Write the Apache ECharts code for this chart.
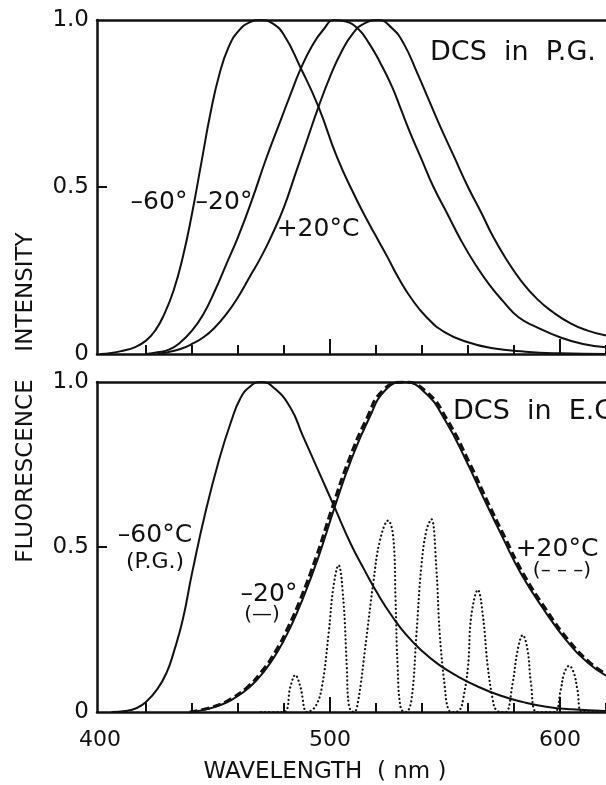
<!DOCTYPE html>
<html>
<head>
<meta charset="utf-8">
<script src="https://cdn.jsdelivr.net/npm/echarts@6/dist/echarts.min.js"></script>
<style>
  html, body { margin: 0; padding: 0; background: #fff; }
  #chart { width: 606px; height: 785px; }
</style>
</head>
<body>
<div id="chart"></div>
<script>
// Wavelength axis (nm)
const wlMin = 398.7;
const wlMax = 620;
const minorTickValues = [420, 440, 460, 480, 520, 540, 560, 580, 620];
const majorTickValues = [500, 600];
const wlLabelValues = [400, 500, 600];
const intensityTicks = [0, 0.5, 1.0];

// DCS in propylene glycol: [wavelength nm, normalised intensity]
const pgMinus60 = [
  [400, 0], [405, 0.003], [410, 0.01], [415, 0.02], [420, 0.04], [424, 0.07],
  [428, 0.12], [432, 0.19], [436, 0.29], [440, 0.42], [444, 0.57], [448, 0.72],
  [452, 0.84], [456, 0.92], [460, 0.965], [465, 0.993], [470, 1.0], [475, 0.99],
  [480, 0.955], [487, 0.86], [495, 0.74], [503, 0.59], [511, 0.47], [517, 0.39],
  [521, 0.34], [525, 0.29], [530, 0.225], [535, 0.17], [542, 0.11], [550, 0.065],
  [560, 0.035], [570, 0.018], [585, 0.007], [600, 0.002], [620, 0]
];
const pgMinus20 = [
  [420, 0], [425, 0.005], [430, 0.013], [435, 0.035], [440, 0.07], [445, 0.12],
  [450, 0.19], [455, 0.27], [460, 0.35], [466, 0.46], [472, 0.58], [478, 0.69],
  [483, 0.78], [487, 0.85], [492, 0.92], [497, 0.97], [502, 1.0], [507, 0.995],
  [512, 0.975], [517, 0.93], [522, 0.87], [527, 0.80], [531, 0.73], [535, 0.66],
  [540, 0.58], [545, 0.50], [551, 0.42], [557, 0.34], [563, 0.27], [569, 0.21],
  [575, 0.16], [582, 0.11], [590, 0.08], [600, 0.05], [610, 0.03], [620, 0.02]
];
const pgPlus20 = [
  [425, 0], [430, 0.006], [435, 0.015], [440, 0.03], [445, 0.05], [450, 0.08],
  [455, 0.12], [460, 0.17], [465, 0.23], [470, 0.29], [475, 0.36], [480, 0.44],
  [485, 0.54], [490, 0.64], [495, 0.74], [500, 0.83], [505, 0.905], [510, 0.96],
  [515, 0.99], [521, 1.0], [527, 0.975], [532, 0.93], [538, 0.84], [543, 0.76],
  [548, 0.68], [554, 0.59], [560, 0.50], [566, 0.42], [571, 0.35], [577, 0.28],
  [583, 0.22], [590, 0.165], [597, 0.125], [605, 0.09], [612, 0.07], [620, 0.055]
];

// DCS in ethylene glycol, with the P.G. -60 °C reference band
const egRefMinus60 = [
  [405, 0], [411, 0.003], [416, 0.012], [420, 0.03], [425, 0.07], [429, 0.12],
  [432, 0.18], [436, 0.28], [440, 0.42], [446, 0.61], [452, 0.77], [457, 0.88],
  [461, 0.95], [465, 0.985], [470, 1.0], [476, 0.98], [483, 0.92], [488, 0.84],
  [495, 0.73], [502, 0.62], [509, 0.51], [515, 0.43], [521, 0.355], [527, 0.29],
  [533, 0.235], [540, 0.185], [547, 0.145], [555, 0.11], [564, 0.078], [574, 0.05],
  [584, 0.03], [594, 0.016], [605, 0.008], [620, 0.003]
];
const egMinus20 = [
  [440, 0], [446, 0.008], [452, 0.02], [458, 0.04], [465, 0.075], [471, 0.12],
  [477, 0.18], [483, 0.26], [488, 0.34], [495, 0.47], [502, 0.62], [509, 0.76],
  [517, 0.89], [524, 0.975], [532, 1.0], [541, 0.97], [550, 0.885], [560, 0.75],
  [567, 0.645], [575, 0.53], [583, 0.42], [593, 0.31], [603, 0.215], [612, 0.15],
  [620, 0.11]
];
const egPlus20 = [
  [439, 0], [445, 0.008], [451, 0.02], [457, 0.04], [464, 0.075], [470, 0.12],
  [476, 0.18], [482, 0.26], [487, 0.34], [494, 0.47], [501, 0.62], [508, 0.76],
  [516, 0.89], [523, 0.975], [532, 1.0], [542, 0.97], [551, 0.885], [561, 0.75],
  [568, 0.645], [576, 0.53], [584, 0.42], [594, 0.31], [604, 0.215], [613, 0.15],
  [620, 0.115]
];
// dotted banded trace under the E.G. spectrum
const egBands = [
  [470, 0], [479.9, 0], [482.8, 0.077], [484.9, 0.112], [487.1, 0.077], [490, 0],
  [493.6, 0.016], [496.5, 0.077], [499.4, 0.238], [501.5, 0.38], [503.7, 0.445],
  [505.8, 0.34], [507.3, 0.137], [508.3, 0.016], [510.5, 0], [512.3, 0.036],
  [515.2, 0.188], [518.8, 0.39], [521.7, 0.52], [525.3, 0.58], [527.5, 0.53],
  [528.5, 0.34], [529.4, 0.137], [530.8, 0.01], [533, 0], [535.4, 0.036],
  [537.6, 0.238], [539.7, 0.44], [541.9, 0.55], [544.1, 0.584], [546.2, 0.44],
  [547.7, 0.238], [549.9, 0.077], [551.6, 0.006], [554, 0], [556.4, 0.006],
  [557.8, 0.036], [560, 0.137], [561.4, 0.29], [564.3, 0.37], [566.5, 0.29],
  [568.6, 0.137], [570.8, 0.036], [572.2, 0.006], [574.5, 0], [576.5, 0],
  [579.4, 0.087], [581.6, 0.188], [583.8, 0.233], [585.9, 0.188], [587.4, 0.087],
  [590, 0], [597.5, 0], [600.3, 0.067], [601.8, 0.117], [604, 0.14],
  [606.1, 0.117], [607.6, 0.067], [609.7, 0], [620, 0]
];

const FONT = 'DejaVu Sans';
const INK = '#111';

function grids() {
  return [
    { left: 97, top: 20, width: 511, height: 334 },
    { left: 97, top: 382, width: 511, height: 330 }
  ];
}

function xAxesFor(gridIndex, showLabels) {
  return [
    {
      type: 'value', gridIndex, min: wlMin, max: wlMax, position: 'bottom',
      axisLine: { show: true, onZero: false, lineStyle: { color: INK, width: 2.5 } },
      axisTick: { show: true, inside: true, length: 9, customValues: minorTickValues,
                  lineStyle: { color: INK, width: 2 } },
      axisLabel: showLabels ? {
        show: true, customValues: wlLabelValues, margin: 17,
        fontFamily: FONT, fontSize: 22, color: INK
      } : { show: false },
      splitLine: { show: false }
    },
    {
      type: 'value', gridIndex, min: wlMin, max: wlMax, position: 'bottom',
      axisLine: { show: false },
      axisTick: { show: true, inside: true, length: 15, customValues: majorTickValues,
                  lineStyle: { color: INK, width: 2 } },
      axisLabel: { show: false },
      splitLine: { show: false }
    },
    {
      type: 'value', gridIndex, min: wlMin, max: wlMax, position: 'top',
      axisLine: { show: true, onZero: false, lineStyle: { color: INK, width: 2.5 } },
      axisTick: { show: false },
      axisLabel: { show: false },
      splitLine: { show: false }
    }
  ];
}

function yAxisFor(gridIndex) {
  return {
    type: 'value', gridIndex, min: 0, max: 1, interval: 0.5,
    axisLine: { show: true, onZero: false, lineStyle: { color: INK, width: 2.5 } },
    axisTick: { show: true, inside: true, length: 10, customValues: [0.5],
                lineStyle: { color: INK, width: 2 } },
    axisLabel: {
      show: true, customValues: intensityTicks, margin: 8,
      fontFamily: FONT, fontSize: 23, color: INK,
      formatter: v => (v === 0 ? '0' : v.toFixed(1))
    },
    splitLine: { show: false }
  };
}

function curve(name, data, xAxisIndex, yAxisIndex, style) {
  return Object.assign({
    name, type: 'line', data, xAxisIndex, yAxisIndex,
    smooth: 0.5, showSymbol: false, symbol: 'none',
    silent: true, animation: false,
    lineStyle: { color: INK, width: 2 }
  }, style || {});
}

function label(text, x, y, size, align, rotation) {
  return {
    type: 'text', x, y, silent: true, rotation: rotation || 0,
    style: {
      text, fill: INK, font: size + 'px "' + FONT + '"',
      align: align || 'center', verticalAlign: 'middle'
    }
  };
}

const chart = echarts.init(document.getElementById('chart'), null, { renderer: 'canvas' });

chart.setOption({
  backgroundColor: '#fff',
  animation: false,
  grid: grids(),
  xAxis: [...xAxesFor(0, false), ...xAxesFor(1, true)],
  yAxis: [yAxisFor(0), yAxisFor(1)],
  series: [
    curve('P.G. -60°', pgMinus60, 0, 0),
    curve('P.G. -20°', pgMinus20, 0, 0),
    curve('P.G. +20°C', pgPlus20, 0, 0),
    curve('P.G. -60°C ref', egRefMinus60, 3, 1),
    curve('E.G. +20°C', egPlus20, 3, 1,
      { lineStyle: { color: INK, width: 3, type: [8, 4] } }),
    curve('E.G. -20°', egMinus20, 3, 1),
    curve('E.G. bands', egBands, 3, 1,
      { smooth: 0.4, lineStyle: { color: INK, width: 2.2, type: [0.1, 4], cap: 'round' } })
  ],
  graphic: [
    // upper panel
    label('DCS  in  P.G.', 430, 53, 27, 'left'),
    label('\u201360\u00b0', 159, 202, 25),
    label('\u201320\u00b0', 224, 202, 25),
    label('+20\u00b0C', 318, 229, 25),
    // lower panel
    label('DCS  in  E.G.', 453, 412, 27, 'left'),
    label('\u201360\u00b0C', 155, 535, 25),
    label('(P.G.)', 155, 562, 22),
    label('\u201320\u00b0', 269, 594, 25),
    label('(\u2014)', 262, 615, 20),
    label('+20\u00b0C', 557, 549, 25),
    label('(\u2013 \u2013 \u2013)', 562, 571, 20),
    // axis titles
    label('WAVELENGTH  ( nm )', 325, 772, 23),
    label('INTENSITY', 26, 292, 23, 'center', Math.PI / 2),
    label('FLUORESCENCE', 26, 471, 23, 'center', Math.PI / 2)
  ]
});
</script>
</body>
</html>
